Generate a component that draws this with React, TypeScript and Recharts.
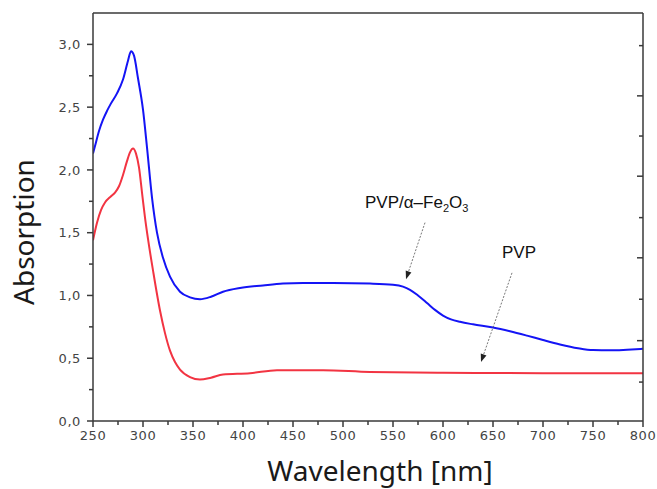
import { LineChart, Line, XAxis, YAxis, ReferenceLine, ReferenceDot, Label } from 'recharts';

// PVP/α-Fe2O3 composite film (blue)
const blueNm = [250, 252, 256, 260, 264, 268, 274, 280, 285, 288, 291, 295, 300, 304, 309, 314, 320, 327, 337, 347, 357, 368, 380, 397, 420, 440, 460, 490, 527, 550, 560, 567, 575, 584, 592, 600, 608, 617, 630, 650, 667, 684, 700, 717, 735, 750, 767, 784, 800];
const blueAbs = [2.13, 2.19, 2.31, 2.4, 2.47, 2.53, 2.61, 2.72, 2.87, 2.945, 2.91, 2.73, 2.48, 2.18, 1.78, 1.5, 1.3, 1.15, 1.03, 0.985, 0.97, 0.99, 1.03, 1.06, 1.08, 1.095, 1.1, 1.1, 1.095, 1.085, 1.07, 1.045, 1.0, 0.94, 0.885, 0.84, 0.81, 0.79, 0.77, 0.745, 0.715, 0.68, 0.645, 0.61, 0.58, 0.565, 0.563, 0.568, 0.575];

// pure PVP film (red)
const redNm = [250, 254, 258, 262, 268, 272, 276, 280, 284, 287, 290, 293, 296, 299, 302, 305, 310, 317, 322, 327, 332, 337, 347, 357, 368, 380, 407, 434, 480, 527, 600, 700, 800];
const redAbs = [1.44, 1.58, 1.68, 1.74, 1.79, 1.82, 1.87, 1.96, 2.07, 2.14, 2.17, 2.13, 2.02, 1.82, 1.62, 1.45, 1.2, 0.88, 0.7, 0.56, 0.47, 0.41, 0.35, 0.33, 0.345, 0.37, 0.38, 0.405, 0.405, 0.39, 0.385, 0.38, 0.38];

const xTicks = [250, 275, 300, 325, 350, 375, 400, 425, 450, 475, 500, 525, 550, 575, 600, 625, 650, 675, 700, 725, 750, 775, 800];
const yTicks = [0, 0.25, 0.5, 0.75, 1, 1.25, 1.5, 1.75, 2, 2.25, 2.5, 2.75, 3];
const topTicks = [302, 353, 404, 455, 507, 558, 609, 660, 711];
const rightTicks = [2.99, 2.59, 2.27, 1.95, 1.62, 1.3, 0.97, 0.64, 0.31];

const BLUE = '#1414f5';
const RED = '#f23442';
const AXIS = '#3a3a3a';
const TICK_TEXT = '#444';
const ARROW = '#555';

const blueData = blueNm.map((nm, i) => ({ nm, abs: blueAbs[i] }));
const redData = redNm.map((nm, i) => ({ nm, abs: redAbs[i] }));

const comma1 = (v: number) => v.toFixed(1).replace('.', ',');
const tickFont = { fontFamily: 'DejaVu Sans', fontSize: 13, letterSpacing: 0.6, fill: TICK_TEXT };

function LeftTick({ x, y, payload }: any) {
  const v = payload.value;
  const major = Math.abs(v * 2 - Math.round(v * 2)) < 1e-6;
  return (
    <g>
      <line x1={x} x2={x - (major ? 6 : 4)} y1={y} y2={y} stroke={AXIS} strokeWidth={1.5} />
      {major && (
        <text x={x - 12} y={y} dy={4.8} textAnchor="end" {...tickFont}>
          {comma1(v)}
        </text>
      )}
    </g>
  );
}

function BottomTick({ x, y, payload }: any) {
  const v = payload.value;
  const major = v % 50 === 0;
  return (
    <g>
      <line x1={x} x2={x} y1={y} y2={y + (major ? 6 : 4)} stroke={AXIS} strokeWidth={1.5} />
      {major && (
        <text x={x} y={y + 19} textAnchor="middle" {...tickFont}>
          {v}
        </text>
      )}
    </g>
  );
}

function TopTick({ x, y, index }: any) {
  const len = index % 2 === 1 ? 6 : 4;
  return <line x1={x} x2={x} y1={y} y2={y + len} stroke={AXIS} strokeWidth={1.5} />;
}

function RightTick({ x, y, index }: any) {
  const len = index % 2 === 1 ? 6 : 4;
  return <line x1={x} x2={x - len} y1={y} y2={y} stroke={AXIS} strokeWidth={1.5} />;
}

function Arrow({ x1, y1, x2, y2 }: any) {
  const a = Math.atan2(y2 - y1, x2 - x1);
  const L = 8;
  const W = 3;
  const bx = x2 - L * Math.cos(a);
  const by = y2 - L * Math.sin(a);
  const px = -Math.sin(a) * W;
  const py = Math.cos(a) * W;
  return (
    <g>
      <line x1={x1} y1={y1} x2={bx} y2={by} stroke={ARROW} strokeWidth={0.8} strokeDasharray="2 1.5" />
      <polygon points={`${x2},${y2} ${bx + px},${by + py} ${bx - px},${by - py}`} fill="#222" />
    </g>
  );
}

function CompositeLabel({ cx, cy }: any) {
  return (
    <text x={cx} y={cy} fontFamily="Liberation Sans" fontSize={17} fill="#111">
      PVP/α–Fe
      <tspan fontSize={11} dy={4}>2</tspan>
      <tspan dy={-4}>O</tspan>
      <tspan fontSize={11} dy={4}>3</tspan>
    </text>
  );
}

function PvpLabel({ cx, cy }: any) {
  return (
    <text x={cx} y={cy} fontFamily="Liberation Sans" fontSize={17} fill="#111">
      PVP
    </text>
  );
}

const titleFont = { fontFamily: 'Noto Sans', fontSize: 28, fill: '#1a1a1a' };

export default function App() {
  return (
    <div style={{ position: 'absolute', left: 0, top: 0, width: 657, height: 489, background: '#fff' }}>
      <LineChart width={657} height={489} margin={{ top: 13, right: 14, bottom: 38, left: 33 }}>
        <XAxis
          xAxisId="bottom"
          type="number"
          dataKey="nm"
          domain={[250, 800]}
          ticks={xTicks}
          interval={0}
          height={30}
          tickSize={0}
          tickMargin={0}
          tickLine={false}
          tick={<BottomTick />}
          stroke={AXIS}
          strokeWidth={1.5}
          allowDataOverflow
        >
          <Label
            content={() => (
              <text x={380} y={481} textAnchor="middle" {...titleFont}>
                Wavelength [nm]
              </text>
            )}
          />
        </XAxis>
        <XAxis
          xAxisId="top"
          orientation="top"
          type="number"
          domain={[250, 800]}
          ticks={topTicks}
          interval={0}
          height={30}
          mirror
          tickSize={0}
          tickMargin={0}
          tickLine={false}
          tick={<TopTick />}
          stroke={AXIS}
          strokeWidth={1.5}
          allowDataOverflow
        />
        <YAxis
          yAxisId="left"
          type="number"
          domain={[0, 3.25]}
          ticks={yTicks}
          interval={0}
          width={60}
          tickSize={0}
          tickMargin={0}
          tickLine={false}
          tick={<LeftTick />}
          stroke={AXIS}
          strokeWidth={1.5}
          allowDataOverflow
        >
          <Label
            content={() => (
              <text x={34} y={232} textAnchor="middle" transform="rotate(-90 34 232)" {...titleFont}>
                Absorption
              </text>
            )}
          />
        </YAxis>
        <YAxis
          yAxisId="right"
          orientation="right"
          type="number"
          domain={[0, 3.25]}
          ticks={rightTicks}
          interval={0}
          width={30}
          mirror
          tickSize={0}
          tickMargin={0}
          tickLine={false}
          tick={<RightTick />}
          stroke={AXIS}
          strokeWidth={1.5}
          allowDataOverflow
        />
        <Line
          xAxisId="bottom"
          yAxisId="left"
          data={redData}
          dataKey="abs"
          type="monotone"
          stroke={RED}
          strokeWidth={2}
          dot={false}
          isAnimationActive={false}
        />
        <Line
          xAxisId="bottom"
          yAxisId="left"
          data={blueData}
          dataKey="abs"
          type="monotone"
          stroke={BLUE}
          strokeWidth={2}
          dot={false}
          isAnimationActive={false}
        />
        <ReferenceLine
          xAxisId="bottom"
          yAxisId="left"
          segment={[{ x: 582, y: 1.58 }, { x: 563, y: 1.13 }]}
          shape={<Arrow />}
        />
        <ReferenceLine
          xAxisId="bottom"
          yAxisId="left"
          segment={[{ x: 669, y: 1.18 }, { x: 638, y: 0.47 }]}
          shape={<Arrow />}
        />
        <ReferenceDot xAxisId="bottom" yAxisId="left" x={522} y={1.7} r={0} shape={<CompositeLabel />} />
        <ReferenceDot xAxisId="bottom" yAxisId="left" x={659} y={1.3} r={0} shape={<PvpLabel />} />
      </LineChart>
    </div>
  );
}
